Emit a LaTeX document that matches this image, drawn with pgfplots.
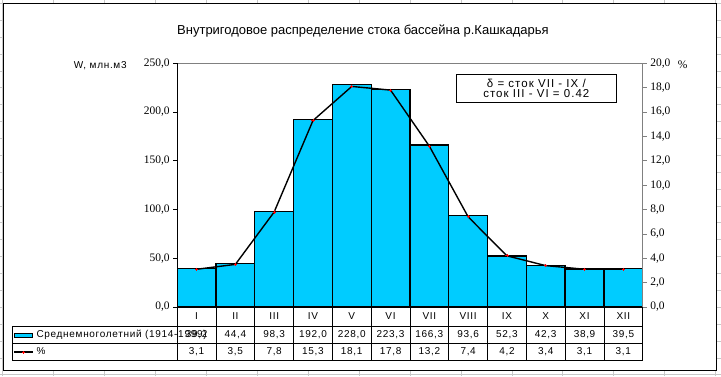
\documentclass[border=0pt]{standalone}
\usepackage{pgfplots}
\pgfplotsset{compat=1.18}
\usepackage{fontspec}
\setmainfont{Liberation Sans}
\newfontfamily\widefont[LetterSpace=7]{Liberation Sans}
\newfontfamily\wideerfont[LetterSpace=9]{Liberation Sans}
\newfontfamily\tickfont{Liberation Serif}
\definecolor{barblue}{RGB}{0,204,255}
\definecolor{gridgray}{RGB}{200,200,200}
\definecolor{axgray}{RGB}{128,128,128}

\pgfplotstableread{
m   w      p
1   39.2   3.1
2   44.4   3.5
3   98.3   7.8
4   192.0  15.3
5   228.0  18.1
6   223.3  17.8
7   166.3  13.2
8   93.6   7.4
9   52.3   4.2
10  42.3   3.4
11  38.9   3.1
12  39.5   3.1
}\datatable

\begin{document}
\begin{tikzpicture}[x=1pt,y=1pt]
% spreadsheet background
\fill[white] (0,0) rectangle (721,376);
\foreach \gx in {2,53,104,155,206,257,308,359,410,461,512,563,614,665,716}
  \draw[gridgray,line width=0.7pt] (\gx,0) -- (\gx,376);
\foreach \k in {0,...,22}
  \draw[gridgray,line width=0.7pt] (0,{373-16.9*\k}) -- (721,{373-16.9*\k});
% chart area
\fill[white] (3,5) rectangle (717,373);
\draw[black,line width=1pt] (3,5) rectangle (717,373);

% title
\node[font=\fontsize{13}{15}\selectfont] at (363,345) {Внутригодовое распределение стока бассейна р.Кашкадарья};
\node[font=\widefont\fontsize{10}{12}\selectfont] at (100,311) {W, млн.м3};
\node[font=\tickfont\fontsize{11.5}{13}\selectfont] at (683,312) {\%};

\begin{axis}[
  at={(177pt,69pt)}, anchor=south west, scale only axis,
  width=466pt, height=244pt,
  xmin=0.5, xmax=12.5, ymin=0, ymax=250,
  axis line style={draw=none},
  xtick=\empty,
  ytick={0,50,100,150,200,250},
  ytick pos=left, tick align=outside, major tick length=4pt,
  ytick style={black, line width=0.8pt},
  yticklabel style={font=\tickfont\fontsize{11.5}{13}\selectfont},
  /pgf/number format/fixed, /pgf/number format/fixed zerofill,
  /pgf/number format/precision=1, /pgf/number format/use comma,
  /pgf/number format/assume math mode=true,
  clip=false,
]
\addplot[ybar, bar width=1, fill=barblue, draw=black, line width=1.3pt] table[x=m,y=w] {\datatable};
\end{axis}

\begin{axis}[
  at={(177pt,69pt)}, anchor=south west, scale only axis,
  width=466pt, height=244pt,
  xmin=0.5, xmax=12.5, ymin=0, ymax=20,
  axis line style={draw=none},
  xtick=\empty,
  ytick={0,2,4,6,8,10,12,14,16,18,20},
  ytick pos=right, yticklabel pos=right, tick align=outside, major tick length=4pt,
  ytick style={axgray, line width=0.8pt},
  yticklabel style={font=\tickfont\fontsize{11.5}{13}\selectfont},
  /pgf/number format/fixed, /pgf/number format/fixed zerofill,
  /pgf/number format/precision=1, /pgf/number format/use comma,
  /pgf/number format/assume math mode=true,
  clip=false,
]
\addplot[black, line width=1.4pt, mark=+, mark size=1.6pt,
  mark options={red, line width=0.8pt, solid}] table[x=m,y=p] {\datatable};
\end{axis}

% plot-area frame
\draw[axgray,line width=0.8pt] (177,313) -- (643,313) -- (643,69);
\draw[black,line width=0.8pt] (177,313) -- (177,16);
\draw[black,line width=0.8pt] (177,69) -- (643,69);

% data table
\draw[black,line width=0.8pt] (12,50) -- (643,50);
\draw[black,line width=0.8pt] (12,33) -- (643,33);
\draw[black,line width=0.8pt] (12,16) -- (643,16);
\draw[black,line width=0.8pt] (12,50) -- (12,16);
\foreach \k in {1,...,12}
  \draw[black,line width=0.8pt] ({177+38.8333*\k},69) -- ({177+38.8333*\k},16);
\foreach \v [count=\i] in {I,II,III,IV,V,VI,VII,VIII,IX,X,XI,XII}
  \node[font=\widefont\fontsize{10}{12}\selectfont] at ({177+38.8333*(\i-0.5)},59.5) {\v};
\foreach \v [count=\i] in {{39,2},{44,4},{98,3},{192,0},{228,0},{223,3},{166,3},{93,6},{52,3},{42,3},{38,9},{39,5}}
  \node[font=\widefont\fontsize{10}{12}\selectfont] at ({177+38.8333*(\i-0.5)},41.5) {\v};
\foreach \v [count=\i] in {{3,1},{3,5},{7,8},{15,3},{18,1},{17,8},{13,2},{7,4},{4,2},{3,4},{3,1},{3,1}}
  \node[font=\widefont\fontsize{10}{12}\selectfont] at ({177+38.8333*(\i-0.5)},24.5) {\v};

% legend keys
\draw[black,line width=0.8pt,fill=barblue] (14,39) rectangle (32,43);
\node[font=\widefont\fontsize{10}{12}\selectfont,anchor=west,inner sep=0pt] at (36,41.5) {Среднемноголетний (1914-1999)};
\draw[black,line width=1.4pt] (14,24) -- (33,24);
\draw[red,line width=0.8pt] (21.5,24) -- (24.5,24) (23,22.5) -- (23,25.5);
\node[font=\widefont\fontsize{10}{12}\selectfont,anchor=west,inner sep=0pt] at (36,24.5) {\%};

% annotation box
\draw[black,line width=0.8pt] (456,274.3) rectangle (617,302);
\node[font=\wideerfont\fontsize{11.5}{13}\selectfont] at (536.5,293) {δ = сток VII - IX /};
\node[font=\wideerfont\fontsize{11.5}{13}\selectfont] at (536.5,282.3) {сток III - VI = 0.42};
\end{tikzpicture}
\end{document}
